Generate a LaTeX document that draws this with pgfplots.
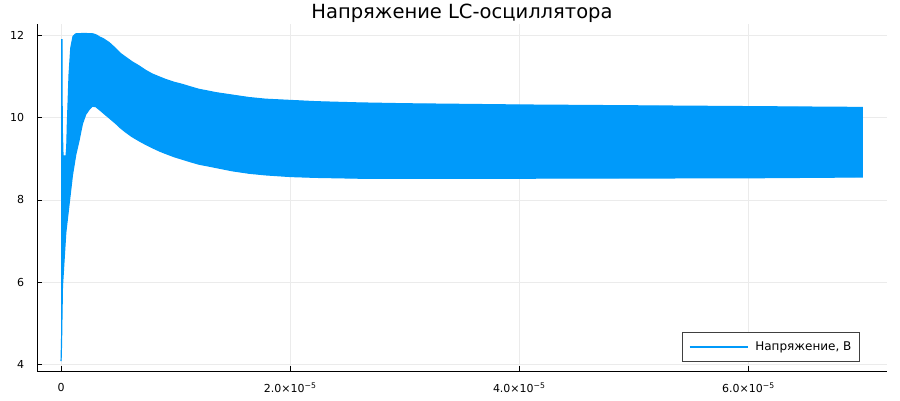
\documentclass[border=0pt]{standalone}
\usepackage{fontspec}
\setmainfont{DejaVu Sans}
\usepackage{pgfplots}
\pgfplotsset{compat=1.18}
\usepgfplotslibrary{fillbetween}
\definecolor{jblue}{RGB}{0,154,250}
\begin{document}
\begin{tikzpicture}
\path (0,0) rectangle (900pt,400pt);
\begin{axis}[
 at={(37pt,29pt)}, anchor=south west,
 scale only axis, width=850pt, height=347pt,
 xmin=-2.1, xmax=72.1, ymin=3.84, ymax=12.28,
 axis x line*=bottom, axis y line*=left,
 axis line style={black, line width=0.9pt, -},
 tick align=inside, major tick length=5pt,
 tick style={black, line width=0.9pt},
 xtick={0,20,40,60},
 xticklabels={0, 2.0×10\textsuperscript{−5}, 4.0×10\textsuperscript{−5}, 6.0×10\textsuperscript{−5}},
 ytick={4,6,8,10,12},
 grid=major, grid style={black!8, line width=0.7pt},
 tick label style={font=\fontsize{11}{12}\selectfont},
 xticklabel style={anchor=center, inner sep=0pt, yshift=-16.7pt},
 yticklabel style={anchor=east, inner sep=0pt, xshift=-12.7pt},
 /pgf/number format/assume math mode=true,
 title={Напряжение LC-осциллятора},
 title style={font=\fontsize{19.5}{22}\selectfont, at={(0.5,1)}, anchor=base, inner sep=0pt, yshift=-0.3pt},
 legend style={at={(0.968,0.026)}, anchor=south east, font=\fontsize{12}{14}\selectfont,
   draw=black!75, line width=0.7pt, inner xsep=6pt, inner ysep=7.5pt},
 legend cell align=left,
 legend image code/.code={\draw[#1, line width=1.8pt] (0pt,0pt) -- (58pt,0pt); \path (63pt,0pt);},
]
\addplot[name path=upper, jblue, line width=1.2pt] coordinates {
(0,11.9) (0.08,11.9) (0.1,9.8) (0.17,9.07) (0.44,9.07) (0.5,9.3) (0.55,9.84) (0.7,11.05) (0.85,11.7)
(1.05,11.98) (1.28,12.04) (2.0,12.05) (2.8,12.04) (3.1,12.01) (3.32,11.97) (3.7,11.92) (4.19,11.83)
(4.78,11.68) (5.2,11.56) (5.65,11.47) (6.2,11.36) (6.81,11.26) (7.4,11.15) (7.98,11.06) (8.6,10.99)
(9.14,10.93) (9.9,10.86) (10.6,10.81) (11.3,10.75) (12.05,10.69) (12.8,10.65) (13.51,10.61)
(14.96,10.55) (16.42,10.49) (17.88,10.45) (20.06,10.42) (22.25,10.39) (26.03,10.36) (30,10.34)
(40,10.31) (50,10.29) (60,10.27) (70,10.25)};
\addlegendentry{Напряжение, В}
\addplot[name path=lower, jblue, line width=1.2pt, forget plot] coordinates {
(0,4.08) (0.04,4.5) (0.12,5.9) (0.41,7.2) (0.70,7.9) (0.99,8.6) (1.28,9.1) (1.57,9.45) (1.86,9.85)
(2.15,10.08) (2.45,10.2) (2.73,10.28) (3.03,10.27) (3.47,10.17) (3.8,10.09) (4.19,10.0) (4.78,9.86)
(5.2,9.75) (5.65,9.65) (6.2,9.54) (6.81,9.44) (7.4,9.35) (7.98,9.27) (8.6,9.19) (9.14,9.13)
(9.9,9.05) (10.6,8.99) (11.3,8.93) (12.05,8.87) (12.8,8.83) (13.51,8.79) (14.96,8.71) (16.42,8.65)
(17.88,8.61) (20.06,8.57) (22.25,8.55) (26.03,8.53) (40,8.53) (60,8.54) (70,8.56)};
\addplot[jblue, draw=none, forget plot] fill between[of=upper and lower];
\end{axis}
\end{tikzpicture}
\end{document}
